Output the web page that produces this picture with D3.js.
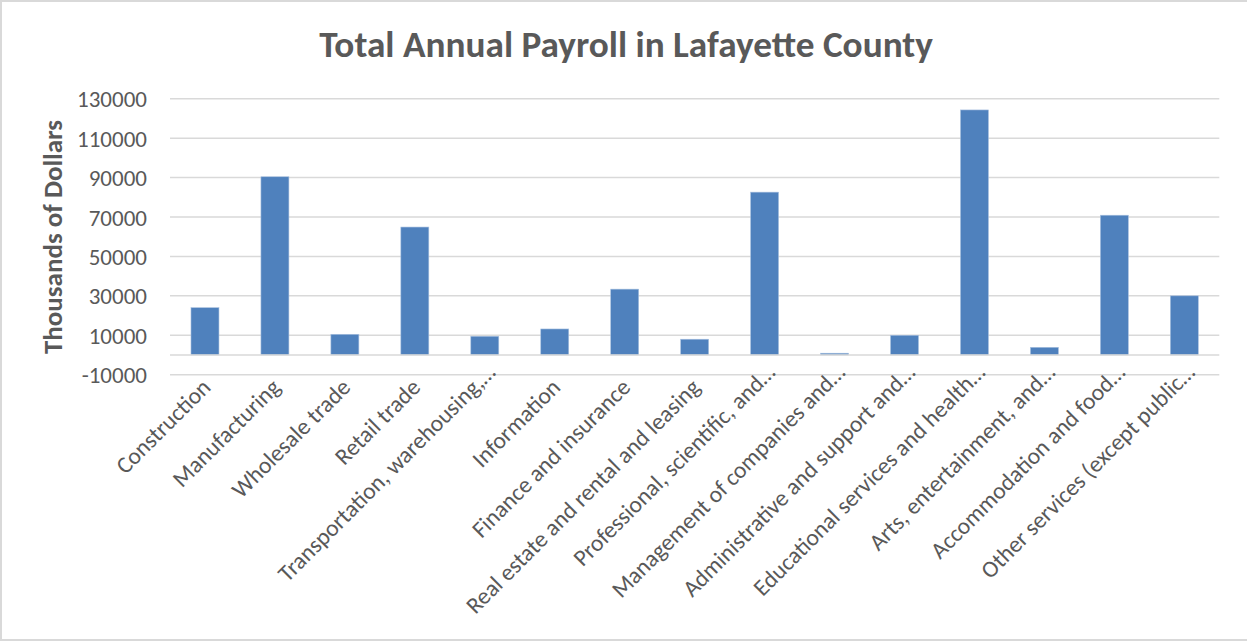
<!DOCTYPE html>
<html>
<head>
<meta charset="utf-8">
<script src="https://cdn.jsdelivr.net/npm/d3@7"></script>
<style>
  html, body { margin: 0; padding: 0; background: #fff; }
  svg { display: block; }
  text { font-family: Carlito, Calibri, Lato, sans-serif; fill: #595959; }
</style>
</head>
<body>
<svg id="chart" width="1247" height="642"></svg>
<script>
// Industry sectors (labels as shown on the axis, long names shortened with an ellipsis)
const categories = [
  "Construction",
  "Manufacturing",
  "Wholesale trade",
  "Retail trade",
  "Transportation, warehousing,\u2026",
  "Information",
  "Finance and insurance",
  "Real estate and rental and leasing",
  "Professional, scientific, and\u2026",
  "Management of companies and\u2026",
  "Administrative and support and\u2026",
  "Educational services and health\u2026",
  "Arts, entertainment, and\u2026",
  "Accommodation and food\u2026",
  "Other services (except public\u2026"
];

// Annual payroll, thousands of dollars
const payroll = [24000, 90400, 10500, 64900, 9500, 13200, 33400, 8000, 82600, 900, 10000, 124300, 3900, 70900, 30000];

// Value-axis ticks
const yTicks = [-10000, 10000, 30000, 50000, 70000, 90000, 110000, 130000];

const chartTitle = "Total Annual Payroll in Lafayette County";
const yTitle = "Thousands of Dollars";

const svg = d3.select("#chart");

// chart-area frame
svg.append("rect")
  .attr("x", 1).attr("y", 1)
  .attr("width", 1260).attr("height", 639)
  .attr("fill", "#fff")
  .attr("stroke", "#d9d9d9")
  .attr("stroke-width", 2);

const plot = { left: 170, right: 1219.3, top: 98.7, bottom: 374.7 };

const x = d3.scaleBand()
  .domain(categories)
  .range([plot.left, plot.right])
  .paddingInner(0.6)
  .paddingOuter(0.3);

const y = d3.scaleLinear()
  .domain([-10000, 130000])
  .range([plot.bottom, plot.top]);

// horizontal gridlines
svg.append("g")
  .selectAll("line")
  .data(yTicks)
  .join("line")
  .attr("x1", plot.left).attr("x2", plot.right)
  .attr("y1", d => y(d)).attr("y2", d => y(d))
  .attr("stroke", "#d9d9d9")
  .attr("stroke-width", 1.5);

// bars grow from the zero line
svg.append("g")
  .selectAll("rect")
  .data(payroll)
  .join("rect")
  .attr("x", (d, i) => x(categories[i]))
  .attr("width", x.bandwidth())
  .attr("y", d => y(Math.max(0, d)))
  .attr("height", d => Math.abs(y(d) - y(0)))
  .attr("fill", "#4f81bd")
  .attr("stroke", "#a9c1e0")
  .attr("stroke-width", 0.6);

// category axis line at zero
svg.append("line")
  .attr("x1", plot.left).attr("x2", plot.right)
  .attr("y1", y(0)).attr("y2", y(0))
  .attr("stroke", "#d9d9d9")
  .attr("stroke-width", 1.5);

// value axis labels (plain hyphen for negatives)
const yAxis = d3.axisLeft(y)
  .tickValues(yTicks)
  .tickSize(0)
  .tickPadding(0)
  .tickFormat(d => String(d));
const yg = svg.append("g")
  .attr("transform", `translate(147,0)`)
  .call(yAxis);
yg.select(".domain").remove();
yg.selectAll("text")
  .attr("font-size", 23)
  .attr("fill", "#595959")
  .style("font-family", "Carlito, Calibri, Lato, sans-serif")
  .attr("dy", "0.35em");

// category labels, rotated 45 degrees
const xg = svg.append("g");
xg.selectAll("text")
  .data(categories)
  .join("text")
  .attr("transform", d => {
    const cx = x(d) + x.bandwidth() / 2;
    const truncated = d.endsWith("\u2026");
    const ax = cx + (truncated ? 12 : 7);
    const ay = plot.bottom + (truncated ? -1 : 14);
    return `translate(${ax},${ay}) rotate(-45)`;
  })
  .attr("text-anchor", "end")
  .attr("font-size", 23.5)
  .text(d => d);

// y-axis title
svg.append("text")
  .attr("transform", `translate(52,237) rotate(-90)`)
  .attr("text-anchor", "middle")
  .attr("dominant-baseline", "central")
  .attr("font-size", 27)
  .attr("font-weight", "bold")
  .text(yTitle);

// chart title, sized to its layout width
const t = svg.append("text")
  .attr("x", 626)
  .attr("y", 56.7)
  .attr("text-anchor", "middle")
  .attr("font-size", 34)
  .attr("font-weight", "bold")
  .text(chartTitle);
const tl = t.node().getComputedTextLength();
t.attr("font-size", 34 * 614 / tl);
</script>
</body>
</html>
